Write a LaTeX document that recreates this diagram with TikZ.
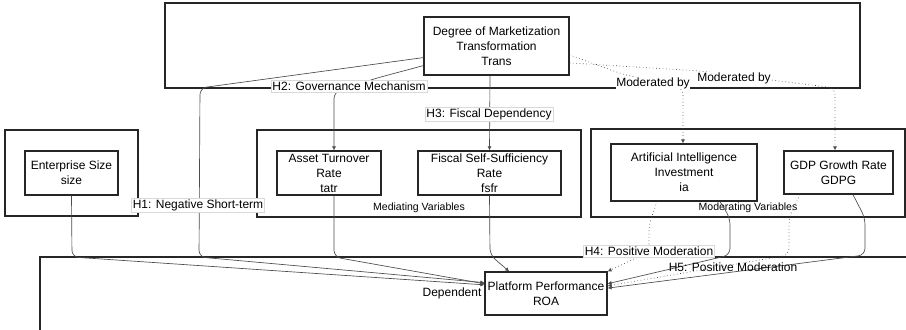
\documentclass[tikz,border=0pt]{standalone}
\usepackage{fontspec}
\setmainfont{Liberation Sans}
\usetikzlibrary{arrows.meta}

\tikzset{
    var/.style={draw=black!85, line width=0.9pt, fill=white, align=center, inner sep=0pt,
        font=\fontsize{9}{11.25}\selectfont},
    grp/.style={draw=black!85, line width=1.1pt},
    grplbl/.style={font=\fontsize{7.9}{9}\selectfont, inner sep=0pt},
    hyp/.style={fill=white, draw=black!15, line width=0.3pt, inner sep=1pt,
        font=\fontsize{9}{10}\selectfont},
    link/.style={draw=black!70, line width=0.5pt, rounded corners=5pt,
        -{Latex[length=3pt,width=3pt]}},
    modlink/.style={link, dotted}
}

\begin{document}
\begin{tikzpicture}[x=0.75pt, y=-0.75pt]
    \useasboundingbox (0,0) rectangle (906,329);

    % clusters
    \draw[grp] (165,3) rectangle (860,88);
    \draw[grp] (5,130) rectangle (138,216);
    \draw[grp] (257,130) rectangle (581,217);
    \draw[grp] (591,129) rectangle (905,217);
    \draw[grp] (40,257) rectangle (914,333);
    \node[grplbl] (medlbl) at (419,208) {Mediating Variables};
    \node[grplbl] (modlbl) at (748,208) {Moderating Variables};

    % variables
    \node[var, minimum width=108.75pt, minimum height=43.5pt] (trans) at (496.5,46)
        {Degree of Marketization\\Transformation\\Trans};
    \node[var, minimum width=69.75pt, minimum height=33pt] (size) at (71.5,173)
        {Enterprise Size\\size};
    \node[var, minimum width=78pt, minimum height=33pt] (tatr) at (329,173)
        {Asset Turnover\\Rate\\tatr};
    \node[var, minimum width=107.25pt, minimum height=33pt] (fsfr) at (489.5,173)
        {Fiscal Self-Sufficiency\\Rate\\fsfr};
    \node[var, minimum width=109.5pt, minimum height=42.75pt] (ia) at (684,172.5)
        {Artificial Intelligence\\Investment\\ia};
    \node[var, minimum width=81.75pt, minimum height=32.25pt] (gdpg) at (838.5,172.5)
        {GDP Growth Rate\\GDPG};
    \node[var, minimum width=91.5pt, minimum height=32.25pt] (roa) at (546,293.5)
        {Platform Performance\\ROA};

    % direct paths
    \draw[link] (size.south) -- (72,257) -- (roa.172);
    \draw[link] (trans.189) -- (200,88) -- (199,257) -- (roa.170);
    \draw[link] (334,0 |- tatr.south) -- (334,257) -- (roa.171);
    \draw[link] (fsfr.south) -- (490,255) -- (roa.149);

    % mediation
    \draw[link] (trans.195) -- (377,78) -- (334,92) -- (334,0 |- tatr.north);
    \draw[link] (490,0 |- trans.south) -- (fsfr.north);

    % moderation
    \draw[modlink] (trans.353) -- (622,74) -- (683,88) -- (683,0 |- ia.north);
    \draw[modlink] (trans.347) -- (700,71) -- (835,88) -- (835,0 |- gdpg.north);
    \draw[modlink] (657,0 |- ia.south) -- (649,225) -- (649,252) -- (roa.north east);
    \draw[link] (720,0 |- ia.south) -- (730,218) -- (730,255) -- (roa.9);
    \draw[modlink] (800,0 |- gdpg.south) -- (789,218) -- (789,255) -- (roa.7);
    \draw[link] (853,0 |- gdpg.south) -- (865,218) -- (865,255) -- (roa.5);

    % hypotheses
    \node[hyp] (h1) at (198,205) {H1: Negative Short-term};
    \node[hyp] (h2) at (349,86) {H2: Governance Mechanism};
    \node[hyp] (h3) at (489,114) {H3: Fiscal Dependency};
    \node[hyp] (h4) at (649,251) {H4: Positive Moderation};
    \node[hyp, fill=none, draw=none] (h5) at (733,267) {H5: Positive Moderation};
    \node[hyp, fill=none, draw=none] (dep) at (452,293) {Dependent};
    \node[hyp, draw=none, inner sep=0.5pt] (modby1) at (653,83) {Moderated by};
    \node[hyp, draw=none, inner sep=0.5pt] (modby2) at (734,78) {Moderated by};
\end{tikzpicture}
\end{document}
